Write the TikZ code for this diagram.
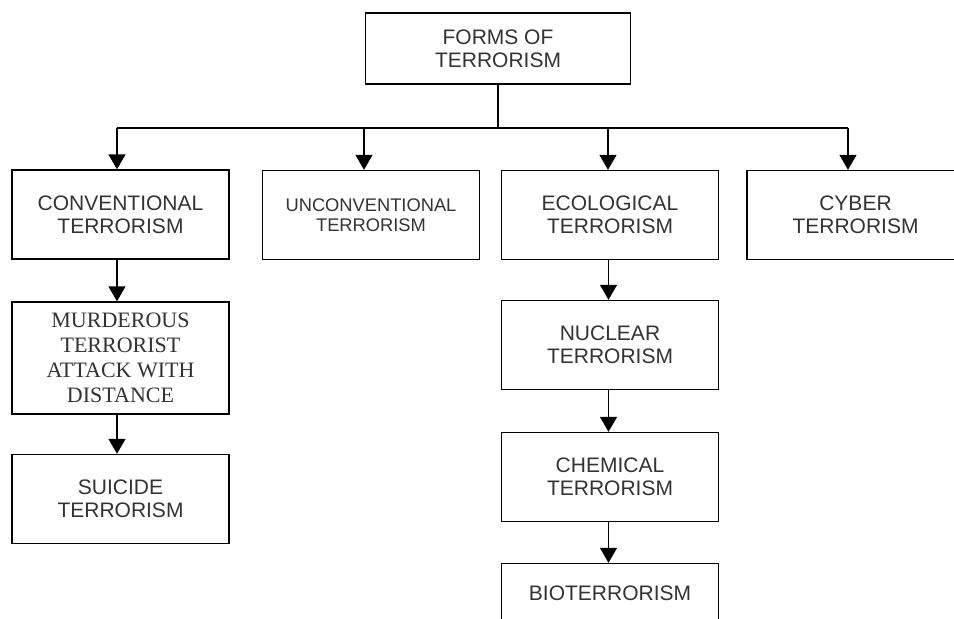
\documentclass[tikz,border=0pt]{standalone}
\usepackage{fontspec}
\setmainfont{Liberation Sans}
\newfontfamily\serifface{Liberation Serif}
\usetikzlibrary{arrows.meta}
\begin{document}
\begin{tikzpicture}[x=1pt,y=-1pt,
  box/.style={draw, line width=1.4pt, rectangle, minimum width=217pt, minimum height=89pt,
    align=center, inner sep=0pt, text=black!80, font=\fontsize{21}{23}\selectfont},
  arr/.style={line width=1.4pt, -{Triangle[width=17pt,length=15pt]}},
  ln/.style={line width=1.4pt}]
\clip (0,0) rectangle (954,619);
\fill[white] (0,0) rectangle (954,619);
\node[box, minimum width=265pt, minimum height=71pt] (top) at (498,48.5) {FORMS OF\\TERRORISM};
\node[box] (conv) at (120.5,214.5) {CONVENTIONAL\\TERRORISM};
\node[box, font=\fontsize{18.3}{20}\selectfont] (unconv) at (371,215) {UNCONVENTIONAL\\TERRORISM};
\node[box] (eco) at (610,215) {ECOLOGICAL\\TERRORISM};
\node[box] (cyber) at (855.5,215) {CYBER\\TERRORISM};
\node[box, minimum height=112pt, font=\serifface\fontsize{22}{25}\selectfont] (murd) at (120.5,358) {MURDEROUS\\TERRORIST\\ATTACK WITH\\DISTANCE};
\node[box] (suic) at (120.5,499) {SUICIDE\\TERRORISM};
\node[box] (nucl) at (610,345) {NUCLEAR\\TERRORISM};
\node[box] (chem) at (610,477) {CHEMICAL\\TERRORISM};
\node[box] (bio) at (610,608) {BIOTERRORISM\\\strut};
\coordinate (busL) at (117,128);
\coordinate (busR) at (848,128);
\draw[ln] (top.south) -- (top.south |- busL);
\draw[ln] (busL) -- (busR);
\draw[arr] (busL) -- ([xshift=-3.5pt]conv.north);
\draw[arr] (unconv.north |- busL) ++(-7,0) -- ([xshift=-7pt]unconv.north);
\draw[arr] ([xshift=-2pt]eco.north |- busL) -- ([xshift=-2pt]eco.north);
\draw[arr] (busR) -- ([xshift=-7.5pt]cyber.north);
\draw[arr] ([xshift=-3.5pt]conv.south) -- ([xshift=-3.5pt]murd.north);
\draw[arr] ([xshift=-3.5pt]murd.south) -- ([xshift=-3.5pt]suic.north);
\draw[arr] ([xshift=-1.5pt]eco.south) -- ([xshift=-1.5pt]nucl.north);
\draw[arr] ([xshift=-1.5pt]nucl.south) -- ([xshift=-1.5pt]chem.north);
\draw[arr] ([xshift=-1.5pt]chem.south) -- ([xshift=-1.5pt]bio.north);
\end{tikzpicture}
\end{document}
